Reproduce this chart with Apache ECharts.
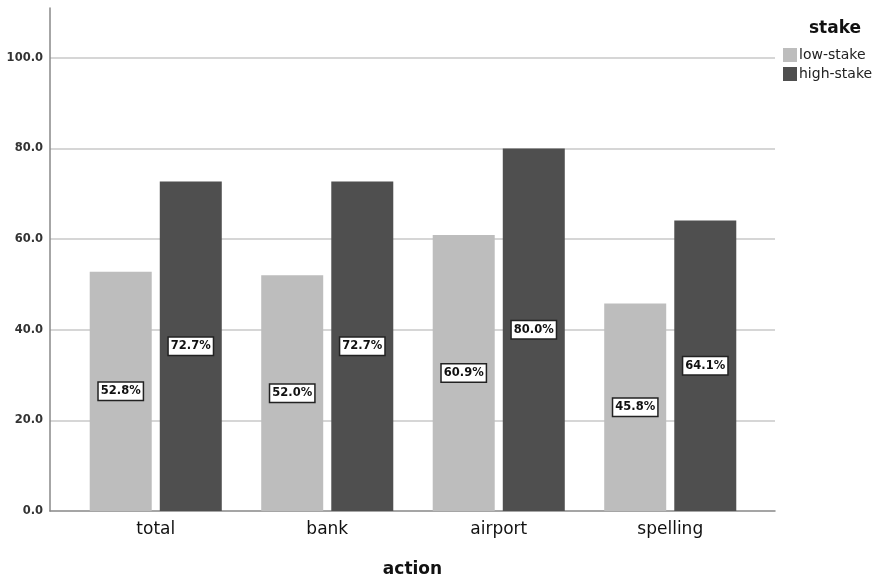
<!DOCTYPE html>
<html>
<head>
<meta charset="utf-8">
<script src="https://cdn.jsdelivr.net/npm/echarts@6/dist/echarts.min.js"></script>
<style>
html,body{margin:0;padding:0;background:#fff;}
#chart{width:892px;height:579px;}
</style>
</head>
<body>
<div id="chart"></div>
<script>
const categories = ['total', 'bank', 'airport', 'spelling'];
const lowStake = [52.8, 52.0, 60.9, 45.8];
const highStake = [72.7, 72.7, 80.0, 64.1];
const seriesNames = ['low-stake', 'high-stake'];
const yTicks = [0, 20, 40, 60, 80, 100];

const FONT = 'DejaVu Sans';
const chart = echarts.init(document.getElementById('chart'), null, {renderer: 'canvas'});

const labelStyle = {
  show: true,
  position: 'inside',
  formatter: p => p.value.toFixed(1) + '%',
  color: '#111',
  fontFamily: FONT,
  fontSize: 11.5,
  fontWeight: 'bold',
  backgroundColor: '#fff',
  borderColor: '#222',
  borderWidth: 1.5,
  padding: [3, 2, 2, 2]
};

chart.setOption({
  animation: false,
  backgroundColor: '#fff',
  title: {
    text: 'stake',
    left: 809,
    top: 20,
    padding: 0,
    textStyle: {fontFamily: FONT, fontSize: 17, fontWeight: 'bold', color: '#111'}
  },
  legend: {
    orient: 'vertical',
    left: 783,
    top: 48,
    padding: 0,
    itemWidth: 14,
    itemHeight: 14,
    itemGap: 5,
    icon: 'rect',
    data: seriesNames,
    textStyle: {fontFamily: FONT, fontSize: 14, color: '#222', padding: [0, 0, 0, -3]}
  },
  grid: [
    {left: 50, right: 117, top: 8, bottom: 68, outerBoundsMode: 'none', containLabel: false},
    {left: 70, right: 136, top: 8, bottom: 68, outerBoundsMode: 'none', containLabel: false}
  ],
  xAxis: [
    {
      gridIndex: 0, type: 'value', min: 0, max: 1,
      axisLine: {show: true, lineStyle: {color: '#888', width: 1.5}},
      axisTick: {show: false}, axisLabel: {show: false}, splitLine: {show: false},
      name: 'action', nameLocation: 'middle', nameGap: 50,
      nameTextStyle: {fontFamily: FONT, fontSize: 17, fontWeight: 'bold', color: '#111'}
    },
    {
      gridIndex: 1, type: 'category', data: categories,
      axisLine: {show: false}, axisTick: {show: false},
      axisLabel: {fontFamily: FONT, fontSize: 17, color: '#111', margin: 10}
    }
  ],
  yAxis: [
    {
      gridIndex: 0, type: 'value', min: 0, max: 111, interval: 20,
      axisLine: {show: true, lineStyle: {color: '#888', width: 1.5}},
      axisTick: {show: false},
      axisLabel: {
        fontFamily: FONT, fontSize: 11.5, fontWeight: 'bold', color: '#333', margin: 7,
        formatter: v => (yTicks.indexOf(v) >= 0 ? v.toFixed(1) : '')
      },
      splitLine: {show: true, showMinLine: false, showMaxLine: false, lineStyle: {color: '#c8c8c8', width: 1.5}}
    },
    {
      gridIndex: 1, type: 'value', min: 0, max: 111, show: false
    }
  ],
  series: [
    {
      name: seriesNames[0], type: 'bar', xAxisIndex: 1, yAxisIndex: 1,
      data: lowStake, barWidth: 62, barGap: '13%',
      itemStyle: {color: '#bdbdbd'}, label: labelStyle
    },
    {
      name: seriesNames[1], type: 'bar', xAxisIndex: 1, yAxisIndex: 1,
      data: highStake, barWidth: 62, barGap: '13%',
      itemStyle: {color: '#4f4f4f'}, label: labelStyle
    }
  ]
});
</script>
</body>
</html>
